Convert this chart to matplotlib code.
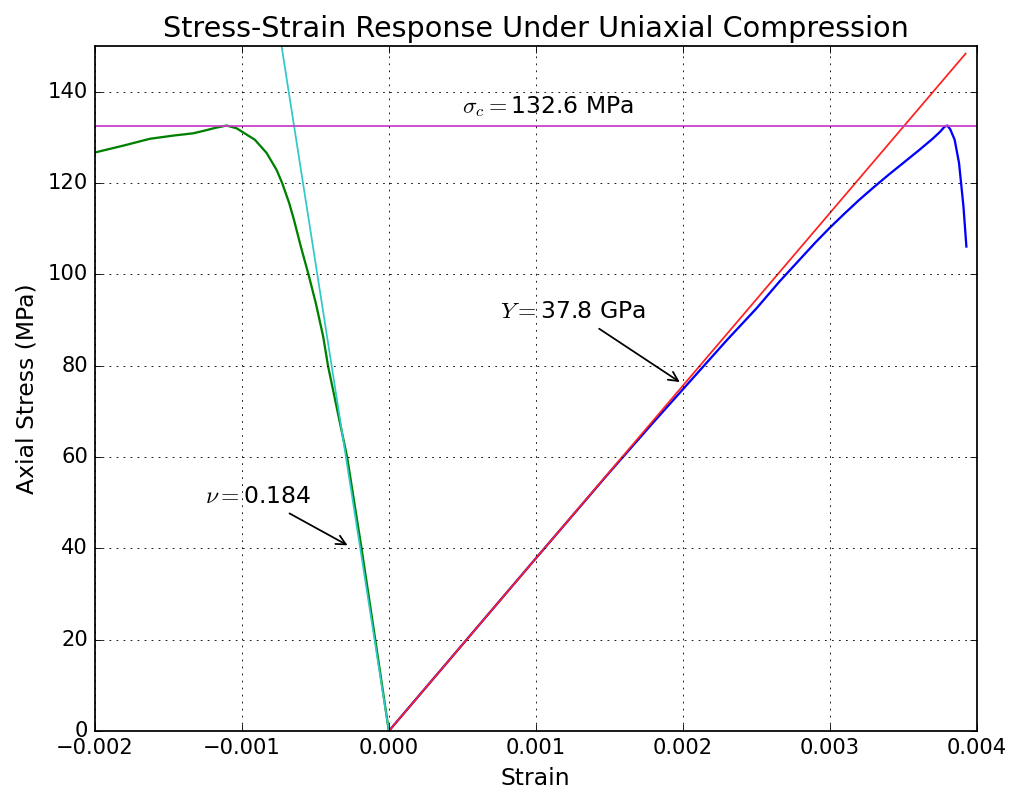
import matplotlib
matplotlib.use("Agg")
import matplotlib.pyplot as plt
import numpy as np

plt.style.use('classic')

# values
E_gpa = 37.8
nu = 0.184
sigma_c = 132.6

axial_strain = [0.0, 0.0005, 0.001, 0.0015, 0.0018, 0.002, 0.0023, 0.0025, 0.00266,
                0.0028, 0.0029, 0.003, 0.0031, 0.0032, 0.0033, 0.0034, 0.0035,
                0.0036, 0.0037, 0.00375, 0.00378, 0.0038,
                0.00382, 0.00385, 0.00388, 0.00391, 0.00393]
axial_stress = [0.0, 18.9, 37.8, 56.6, 67.6, 74.8, 85.6, 92.5, 98.5,
                103.4, 106.9, 110.2, 113.3, 116.3, 119.1, 121.8, 124.4,
                127.0, 129.7, 131.2, 132.3, 132.6,
                131.8, 129.5, 124.4, 114.9, 106.1]

lateral_strain = [0.0, -0.0000925, -0.000186, -0.000284, -0.000413, -0.000447,
                  -0.000497, -0.000546, -0.000599, -0.000646, -0.000678, -0.000726,
                  -0.000764, -0.000832, -0.000912, -0.001036, -0.001104, -0.00118,
                  -0.00124, -0.001331, -0.001467, -0.001626, -0.001807, -0.002]
lateral_stress = [0.0, 20.0, 40.0, 60.0, 79.8, 86.4,
                  93.7, 99.9, 106.1, 112.0, 115.6, 120.0,
                  122.9, 126.6, 129.5, 132.0, 132.6, 132.1,
                  131.6, 130.9, 130.4, 129.7, 128.2, 126.7]

fit_axial_end = 0.003925
fit_lateral_end = -0.00075

fig = plt.figure(figsize=(8, 6.25), dpi=126.25, facecolor='white')
ax = fig.add_axes([0.094, 0.0735, 0.873, 0.868])

ax.plot(axial_strain, axial_stress, 'b-', lw=1.3)
ax.plot(lateral_strain, lateral_stress, 'g-', lw=1.3)

E_mpa = E_gpa * 1000
fx = np.array([0.0, fit_axial_end])
ax.plot(fx, E_mpa * fx, color='#ff2020')
lx = np.array([0.0, fit_lateral_end])
ax.plot(lx, -E_mpa / nu * lx, color='#30c8c8')
ax.axhline(sigma_c, color='#c83cc8')

fs = 13.4
ax.text(0.0005, 135.4, r'$\sigma_c=$' + '%.1f MPa' % sigma_c, fontsize=fs)
ax.annotate(r'$Y=$' + '%.1f GPa' % E_gpa, xy=(0.002, 76), xytext=(0.000755, 90.5),
            fontsize=fs, arrowprops=dict(arrowstyle='->', color='k'))
ax.annotate(r'$\nu=$' + '%.3f' % nu, xy=(-0.00026, 40.3), xytext=(-0.00125, 50),
            fontsize=fs, arrowprops=dict(arrowstyle='->', color='k'))

ax.set_xlim(-0.002, 0.004)
ax.set_ylim(0, 150)
ax.set_xticks([-0.002, -0.001, 0.0, 0.001, 0.002, 0.003, 0.004])
ax.set_xticklabels(['\u22120.002', '\u22120.001', '0.000', '0.001', '0.002', '0.003', '0.004'])
ax.grid(True)
ax.set_xlabel('Strain', fontsize=fs)
ax.set_ylabel('Axial Stress (MPa)', fontsize=fs)
ax.set_title('Stress-Strain Response Under Uniaxial Compression', fontsize=16.3)

fig.savefig('out.png', dpi=126.25, facecolor='white')
